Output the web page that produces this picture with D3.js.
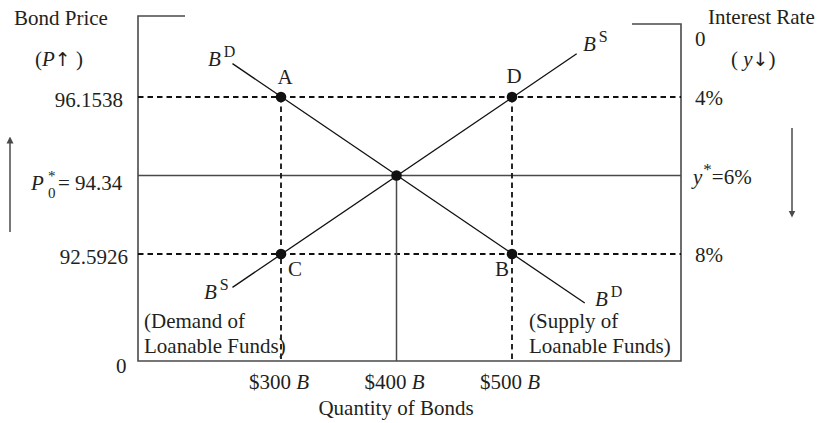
<!DOCTYPE html>
<html>
<head>
<meta charset="utf-8">
<script src="https://cdn.jsdelivr.net/npm/d3@7"></script>
<style>
  html, body { margin: 0; padding: 0; background: #fff; }
  svg { display: block; font-family: "Liberation Serif", "Times New Roman", serif; }
  text { fill: #231f20; }
  .arrow { font-family: "DejaVu Sans", sans-serif; }
</style>
</head>
<body>
<svg id="chart" width="817" height="423"></svg>
<script>
// ---- data ----
const quantities = [300, 400, 500];                 // $ billions
const quantityLabels = ["$300", "$400", "$500"];
const rates = [4, 6, 8];                            // interest rate, %
const priceLabels = ["96.1538", "94.34", "92.5926"];
const rateLabels = ["4%", "6%", "8%"];
const pointNames = ["A", "D", "C", "B"];
const pointQ = [300, 500, 300, 500];
const pointR = [4, 4, 8, 8];
const demandQ = [258, 563];       // B^D line end points (quantity)
const demandR = [3.15, 9.25];     // B^D line end points (rate)
const supplyQ = [258, 556];       // B^S line
const supplyR = [8.85, 2.9];
const eqQ = 400, eqR = 6;

// ---- layout ----
const svg = d3.select("#chart");
const x = d3.scaleLinear().domain([300, 500]).range([281, 512]);
const y = d3.scaleLinear().domain([4, 8]).range([97, 254]);
const L = 138, R = 681, B = 361, TL = 16, TR = 24;
const axisColor = "#4a4a4a";

// defs: arrowheads
const defs = svg.append("defs");
defs.append("marker").attr("id", "ah").attr("viewBox", "0 0 10 10")
  .attr("refX", 5).attr("refY", 5).attr("markerWidth", 7).attr("markerHeight", 9)
  .attr("orient", "auto-start-reverse").attr("markerUnits", "userSpaceOnUse")
  .append("path").attr("d", "M0,0 L10,5 L0,10 Z").attr("fill", axisColor);

// frame
const frame = svg.append("g").attr("fill", "none").attr("stroke", axisColor).attr("stroke-width", 1.6);
frame.append("path").attr("d", `M185,${TL} H${L} V${B} H${R} V${TR} H632`);

// horizontal guide lines
svg.append("g").selectAll("line").data(rates).join("line")
  .attr("x1", L).attr("x2", R)
  .attr("y1", d => y(d)).attr("y2", d => y(d))
  .attr("stroke", d => d === eqR ? axisColor : "#111")
  .attr("stroke-width", d => d === eqR ? 1.5 : 1.8)
  .attr("stroke-dasharray", d => d === eqR ? null : "5.5,4");

// vertical guide lines
svg.append("g").selectAll("line").data(quantities).join("line")
  .attr("x1", d => x(d)).attr("x2", d => x(d))
  .attr("y1", d => d === eqQ ? y(eqR) : y(4)).attr("y2", B)
  .attr("stroke", d => d === eqQ ? axisColor : "#111")
  .attr("stroke-width", d => d === eqQ ? 1.5 : 1.8)
  .attr("stroke-dasharray", d => d === eqQ ? null : "5.5,4");

// curves
const line = d3.line().x(d => x(d[0])).y(d => y(d[1]));
svg.append("path").attr("d", line(d3.zip(demandQ, demandR)))
  .attr("fill", "none").attr("stroke", "#111").attr("stroke-width", 1.3);
svg.append("path").attr("d", line(d3.zip(supplyQ, supplyR)))
  .attr("fill", "none").attr("stroke", "#111").attr("stroke-width", 1.3);

// points
svg.append("g").selectAll("circle").data(d3.zip(pointQ, pointR).concat([[eqQ, eqR]])).join("circle")
  .attr("cx", d => x(d[0])).attr("cy", d => y(d[1])).attr("r", 5.3).attr("fill", "#111");

const FS = 21;
function txt(xp, yp, anchor) {
  return svg.append("text").attr("x", xp).attr("y", yp).attr("font-size", FS)
    .attr("text-anchor", anchor || "start");
}

// point letters
const letterOffsets = { A: [4, -13], D: [2, -14], C: [14, 22], B: [-10, 22] };
pointNames.forEach((n, i) => {
  const o = letterOffsets[n];
  txt(x(pointQ[i]) + o[0], y(pointR[i]) + o[1], "middle").text(n);
});

// curve labels
function curveLabel(xp, yp, sup) {
  const t = txt(xp, yp);
  t.append("tspan").attr("font-style", "italic").text("B");
  t.append("tspan").attr("font-size", 16).attr("dx", 3).attr("dy", -9).text(sup);
}
curveLabel(208, 66, "D");
curveLabel(583, 51, "S");
curveLabel(204, 299, "S");
curveLabel(595, 306, "D");

// axis titles
txt(14, 25).text("Bond Price");
const pu = txt(35, 66);
pu.append("tspan").text("(");
pu.append("tspan").attr("font-style", "italic").text("P");
pu.append("tspan").attr("class", "arrow").attr("font-size", 19).text("\u2191");
pu.append("tspan").text(" )");

txt(708, 24).text("Interest Rate");
const yd = txt(731, 66);
yd.append("tspan").text("( ");
yd.append("tspan").attr("font-style", "italic").text("y");
yd.append("tspan").attr("class", "arrow").attr("font-size", 19).text("\u2193");
yd.append("tspan").text(")");

txt(396, 415, "middle").text("Quantity of Bonds");
txt(116, 373).text("0");
txt(695, 46).text("0");

// price labels (left)
const priceRight = [123, 124, 128];
rates.forEach((r, i) => {
  if (r === eqR) {
    const base = y(r) + 14;
    const t = txt(31, base);
    t.append("tspan").attr("font-style", "italic").text("P");
    t.append("tspan").attr("x", 58).text("= " + priceLabels[i]);
    txt(48, base - 9).attr("font-size", 15).text("*");
    txt(48, base + 8).attr("font-size", 15).text("0");
  } else {
    txt(priceRight[i], y(r) + 10, "end").text(priceLabels[i]);
  }
});

// rate labels (right)
rates.forEach((r, i) => {
  if (r === eqR) {
    const t = txt(693, y(r) + 8);
    t.append("tspan").attr("font-style", "italic").text("y");
    t.append("tspan").attr("font-size", 17).attr("dy", -9).attr("dx", 1).text("*");
    t.append("tspan").attr("dy", 9).text("=" + rateLabels[i]);
  } else {
    txt(695, y(r) + 8).text(rateLabels[i]);
  }
});

// quantity tick labels
quantities.forEach((q, i) => {
  const t = txt(x(q) - 2, 389, "middle");
  t.append("tspan").text(quantityLabels[i] + " ");
  t.append("tspan").attr("font-style", "italic").text("B");
});

// loanable funds notes
txt(144, 328).text("(Demand of");
txt(144, 353).text("Loanable Funds)");
txt(529, 328).text("(Supply of");
txt(529, 353).text("Loanable Funds)");

// direction arrows
svg.append("line").attr("x1", 10).attr("x2", 10).attr("y1", 232).attr("y2", 140)
  .attr("stroke", axisColor).attr("stroke-width", 1.5).attr("marker-end", "url(#ah)");
svg.append("line").attr("x1", 792).attr("x2", 792).attr("y1", 128).attr("y2", 214)
  .attr("stroke", axisColor).attr("stroke-width", 1.5).attr("marker-end", "url(#ah)");
</script>
</body>
</html>
